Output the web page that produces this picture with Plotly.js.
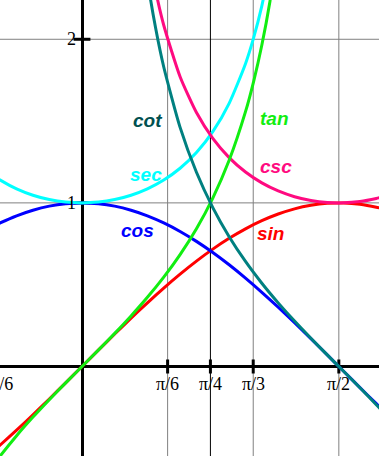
<!DOCTYPE html>
<html><head><meta charset="utf-8">
<script src="https://cdn.plot.ly/plotly-3.0.1.min.js"></script>
<style>html,body{margin:0;padding:0;background:#fff}#c{width:379px;height:456px}</style>
</head><body><div id="c"></div>
<script>
// x samples and function values
const xA = [-0.55,-0.5,-0.4,-0.3,-0.2,-0.1,0,0.1,0.2,0.3,0.4,0.5,0.6,0.7,0.8,0.9,1.0,1.1,1.2,1.3,1.4,1.5,1.6,1.7,1.8,1.85];
const sinY = [-0.5227,-0.4794,-0.3894,-0.2955,-0.1987,-0.0998,0,0.0998,0.1987,0.2955,0.3894,0.4794,0.5646,0.6442,0.7174,0.7833,0.8415,0.8912,0.9320,0.9636,0.9854,0.9975,0.9996,0.9917,0.9738,0.9618];
const cosY = [0.8525,0.8776,0.9211,0.9553,0.9801,0.9950,1,0.9950,0.9801,0.9553,0.9211,0.8776,0.8253,0.7648,0.6967,0.6216,0.5403,0.4536,0.3624,0.2675,0.1700,0.0707,-0.0292,-0.1288,-0.2272,-0.2756];
const tanX = [-0.55,-0.5,-0.4,-0.3,-0.2,-0.1,0,0.1,0.2,0.3,0.4,0.5,0.6,0.7,0.8,0.9,1.0,1.05,1.1,1.15,1.2];
const tanY = [-0.6131,-0.5463,-0.4228,-0.3093,-0.2027,-0.1003,0,0.1003,0.2027,0.3093,0.4228,0.5463,0.6841,0.8423,1.0296,1.2602,1.5574,1.7433,1.9648,2.2345,2.5722];
const secX = [-0.55,-0.5,-0.4,-0.3,-0.2,-0.1,0,0.1,0.2,0.3,0.4,0.5,0.6,0.7,0.8,0.9,1.0,1.05,1.1,1.15];
const secY = [1.1730,1.1395,1.0857,1.0468,1.0203,1.0050,1,1.0050,1.0203,1.0468,1.0857,1.1395,1.2116,1.3075,1.4353,1.6087,1.8508,2.0096,2.2046,2.4481];
const cotX = [0.35,0.4,0.45,0.5,0.6,0.7,0.8,0.9,1.0,1.1,1.2,1.3,1.4,1.5,1.6,1.7,1.8,1.85];
const cotY = [2.7395,2.3652,2.0701,1.8305,1.4617,1.1872,0.9712,0.7936,0.6421,0.5090,0.3888,0.2776,0.1725,0.0709,-0.0292,-0.1299,-0.2333,-0.2865];
const cscX = [0.4,0.45,0.5,0.6,0.7,0.8,0.9,1.0,1.1,1.2,1.3,1.4,1.5,1.6,1.7,1.8,1.85];
const cscY = [2.5679,2.2990,2.0858,1.7710,1.5523,1.3940,1.2766,1.1884,1.1221,1.0729,1.0378,1.0148,1.0025,1.0004,1.0084,1.0269,1.0397];

const xTickVals = [-Math.PI/6, Math.PI/6, Math.PI/4, Math.PI/3, Math.PI/2];
const xTickText = ['\u2212\u03c0/6','\u03c0/6','\u03c0/4','\u03c0/3','\u03c0/2'];
const yTickVals = [1, 2];
const yTickText = ['1','2'];
const gridX = [Math.PI/6, Math.PI/3, Math.PI/2];
const mainX = [Math.PI/4];

const names = ['sin','cos','tan','cot','sec','csc'];
const colors = {sin:'#ff0000', cos:'#0000ff', tan:'#11ee11', cot:'#008080', sec:'#00ffff', csc:'#ff0a80'};
const labelColors = {sin:'#ff0000', cos:'#0000ff', tan:'#11ee11', cot:'#005050', sec:'#00ffff', csc:'#ff0a80'};
const labelPos = {cot:[0.399,1.505], tan:[1.175,1.517], sec:[0.390,1.176], csc:[1.188,1.225], cos:[0.338,0.830], sin:[1.154,0.812]};

const xRange = [-0.5015, 1.8165];
const yRange = [-0.547, 2.240];
const toPaperX = v => (v - xRange[0]) / (xRange[1] - xRange[0]);

const curve = (x,y,c) => ({x:x, y:y, type:'scatter', mode:'lines', line:{color:c, width:3, shape:'spline', smoothing:0.6}, hoverinfo:'skip', showlegend:false});

const traces = [
  {x:xTickVals, y:xTickVals.map(()=>0), type:'scatter', mode:'markers', marker:{symbol:'line-ns-open', size:10, color:'#000', line:{color:'#000', width:3}}, hoverinfo:'skip', showlegend:false},
  {x:yTickVals.map(()=>0), y:yTickVals, type:'scatter', mode:'markers', marker:{symbol:'line-ew-open', size:12, color:'#000', line:{color:'#000', width:3}}, hoverinfo:'skip', showlegend:false},
  curve(xA, sinY, colors.sin),
  curve(xA, cosY, colors.cos),
  curve(secX, secY, colors.sec),
  curve(cscX, cscY, colors.csc),
  curve(tanX, tanY, colors.tan),
  curve(cotX, cotY, colors.cot)
];

const annotations = [];
xTickVals.forEach((v,i)=>annotations.push({x:toPaperX(v), y:0, xref:'paper', yref:'y', text:xTickText[i], showarrow:false, xanchor:'center', yanchor:'middle', yshift:-17, font:{family:'Liberation Serif, Times New Roman, serif', size:18, color:'#000'}}));
yTickVals.forEach((v,i)=>annotations.push({x:0, y:v, xref:'x', yref:'y', text:yTickText[i], showarrow:false, xanchor:'right', yanchor:'middle', xshift:-4, font:{family:'Liberation Serif, Times New Roman, serif', size:18, color:'#000'}}));
names.forEach(n=>annotations.push({x:labelPos[n][0], y:labelPos[n][1], xref:'x', yref:'y', text:'<b><i>'+n+'</i></b>', showarrow:false, xanchor:'center', yanchor:'middle', font:{family:'Liberation Sans, Arial, sans-serif', size:19, color:labelColors[n]}}));

const shapes = [];
gridX.forEach(v=>shapes.push({type:'line', xref:'x', yref:'paper', x0:v, x1:v, y0:0, y1:1, line:{color:'#808080', width:1}, layer:'below'}));
yTickVals.forEach(v=>shapes.push({type:'line', xref:'paper', yref:'y', x0:0, x1:1, y0:v, y1:v, line:{color:'#808080', width:1}, layer:'below'}));
mainX.forEach(v=>shapes.push({type:'line', xref:'x', yref:'paper', x0:v, x1:v, y0:0, y1:1, line:{color:'#000', width:1}, layer:'below'}));

const layout = {
  width:379, height:456, margin:{l:0,r:0,t:0,b:0},
  paper_bgcolor:'#fff', plot_bgcolor:'#fff',
  xaxis:{range:xRange, showgrid:false, zeroline:true, zerolinecolor:'#000', zerolinewidth:3, showticklabels:false, ticks:'', fixedrange:true},
  yaxis:{range:yRange, showgrid:false, zeroline:true, zerolinecolor:'#000', zerolinewidth:3, showticklabels:false, ticks:'', fixedrange:true},
  annotations:annotations, shapes:shapes
};
Plotly.newPlot('c', traces, layout, {displayModeBar:false, staticPlot:true});
</script></body></html>
